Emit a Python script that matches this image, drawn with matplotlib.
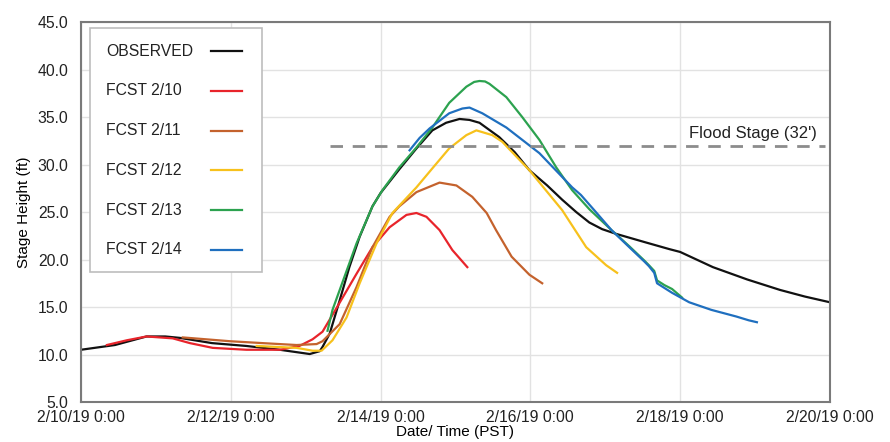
import numpy as np
import matplotlib
matplotlib.use("Agg")
import matplotlib.pyplot as plt
import matplotlib.dates as mdates
from matplotlib.patches import Rectangle

plt.rcParams["font.family"] = ["Liberation Sans", "DejaVu Sans"]

# hours after 2/10/19 0:00 (PST) and stage height (ft)
obs_hours = [0, 10.9, 21, 27, 31.7, 42, 53, 63.7, 73.3, 76.5, 77.4, 79.7, 82.9, 86, 89.3, 93.4,
             96, 102, 107.5, 112.6, 117, 121.3, 124.5, 127.7, 134, 139, 143.7, 149.4, 154.2,
             158.7, 162.9, 167, 171.5, 181, 188.5, 192, 202.5, 213.5, 224, 232, 240]
obs_stage = [10.5, 11.0, 11.9, 11.9, 11.75, 11.2, 10.9, 10.5, 10.05, 10.35, 10.8, 12.2, 15.7, 19.2, 22.4, 25.6,
             27.0, 29.5, 31.7, 33.6, 34.4, 34.8, 34.7, 34.4, 32.9, 31.3, 29.4, 27.8, 26.3,
             25.0, 23.9, 23.2, 22.7, 21.8, 21.1, 20.8, 19.2, 17.9, 16.8, 16.1, 15.5]

f10_hours = [8.3, 14.7, 21, 29.4, 34.9, 42.2, 53, 63.7, 70, 74.2, 77.4, 81.9, 88.3, 93.4, 98.9,
             104.3, 107.5, 110.7, 114.9, 119, 123.8]
f10_stage = [11.0, 11.5, 11.9, 11.7, 11.2, 10.7, 10.5, 10.5, 10.9, 11.6, 12.4, 14.9, 18.5, 21.3, 23.4,
             24.7, 24.9, 24.5, 23.1, 21.0, 19.2]

f11_hours = [32.6, 47.7, 58.2, 69.1, 75.5, 77.4, 82.9, 88.3, 93.4, 98.9, 102, 107.5, 114.9, 120.3,
             125.4, 130, 133, 138, 143.7, 147.8]
f11_stage = [11.8, 11.4, 11.2, 11.0, 11.1, 11.4, 13.2, 17.1, 21.3, 24.5, 25.6, 27.1, 28.1, 27.8,
             26.6, 24.9, 23.1, 20.3, 18.4, 17.5]

f12_hours = [56.3, 69.1, 74.2, 77.1, 80.6, 85.1, 89.3, 94.7, 99.8, 107.5, 112.6, 118, 123.5, 126.7,
             131.8, 135, 143.7, 154.2, 161.9, 168.3, 171.8]
f12_stage = [10.9, 10.7, 10.4, 10.4, 11.5, 13.9, 17.5, 21.7, 24.9, 27.6, 29.6, 31.7, 33.1, 33.6,
             33.1, 32.4, 29.4, 25.2, 21.3, 19.4, 18.6]

f13_hours = [79, 80.6, 88.3, 93.4, 96.6, 102, 107.5, 112.6, 118, 123.5, 126, 127.7, 129.5, 130.9,
             136.3, 141.4, 146.9, 152.3, 157.4, 162.9, 170, 175.7, 180.5, 182, 183.7, 184.6, 187,
             189.4, 192.6]
f13_stage = [12.5, 14.7, 21.7, 25.6, 27.3, 29.7, 31.8, 33.9, 36.5, 38.2, 38.7, 38.8, 38.75, 38.5,
             37.1, 35.0, 32.6, 29.7, 27.3, 25.3, 23.1, 21.4, 19.9, 19.4, 18.8, 17.8, 17.3,
             16.9, 16.0]

f14_hours = [105.3, 108.5, 111.7, 118, 122.2, 124.5, 128.6, 136.3, 146.9, 157.4, 160.2, 165, 170,
             175.7, 180.5, 182, 183.7, 184.6, 187, 189.4, 194.9, 202, 210, 214, 216.6]
f14_stage = [31.5, 32.8, 33.8, 35.4, 35.9, 36.0, 35.4, 33.9, 31.2, 27.6, 26.8, 25.0, 23.1,
             21.3, 19.8, 19.3, 18.6, 17.5, 17.0, 16.5, 15.5, 14.7, 14.0, 13.6, 13.4]

flood_stage = 32
flood_hours = [79.7, 238.4]

start = np.datetime64("2019-02-10T00:00")


def to_time(hours):
    return start + (np.array(hours) * 60).round().astype(int).astype("timedelta64[m]")


series = [
    ("OBSERVED", obs_hours, obs_stage, "#111111"),
    ("FCST 2/10", f10_hours, f10_stage, "#e8242b"),
    ("FCST 2/11", f11_hours, f11_stage, "#c4622d"),
    ("FCST 2/12", f12_hours, f12_stage, "#f7c11c"),
    ("FCST 2/13", f13_hours, f13_stage, "#2ca24f"),
    ("FCST 2/14", f14_hours, f14_stage, "#1f6fbf"),
]

fig = plt.figure(figsize=(8.9, 4.42), dpi=100)
ax = fig.add_axes([0.091, 0.0905, 0.8415, 0.8595])

for label, hours, stage, color in series:
    ax.plot(to_time(hours), stage, color=color, lw=1.6, label=label,
            solid_joinstyle="round")

ax.plot(to_time(flood_hours), [flood_stage, flood_stage], color="#8c8c8c", lw=2,
        dashes=(4.5, 3.5))
ax.text(to_time([235.8])[0], flood_stage + 0.5, "Flood Stage (32')", ha="right", va="bottom",
        fontsize=12, color="#222222")

ax.set_xlim(to_time([0])[0], to_time([240])[0])
ax.set_ylim(5, 45)
ax.set_yticks(np.arange(5, 46, 5))
ax.yaxis.set_major_formatter(plt.FuncFormatter(lambda v, p: f"{v:.1f}"))
ax.set_xticks(to_time([0, 48, 96, 144, 192, 240]))


def fmt_date(v, p):
    d = mdates.num2date(v)
    return f"{d.month}/{d.day}/{d:%y} {d.hour}:{d:%M}"


ax.xaxis.set_major_formatter(plt.FuncFormatter(fmt_date))
ax.tick_params(length=0, labelsize=11.3, colors="#222222")
ax.tick_params(axis="y", pad=9)
ax.tick_params(axis="x", pad=6)
ax.grid(color="#e2e2e2", lw=1)
ax.set_axisbelow(True)
for sp in ax.spines.values():
    sp.set_color("#7a7a7a")
    sp.set_linewidth(1.5)

ax.set_ylabel("Stage Height (ft)", fontsize=11, labelpad=5)
ax.set_xlabel("Date/ Time (PST)", fontsize=11, labelpad=0)

# legend box: labels left-aligned, line samples on the right
ax.add_patch(Rectangle((0.012, 0.342), 0.2297, 0.642, transform=ax.transAxes, facecolor="white",
                       edgecolor="#bdbdbd", lw=1.2, zorder=5))
for i, (label, hours, stage, color) in enumerate(series):
    y = 0.9237 - i * 0.1047
    ax.text(0.0334, y, label, transform=ax.transAxes, fontsize=11.3, va="center", ha="left",
            color="#222222", zorder=6)
    ax.plot([0.1736, 0.215], [y, y], transform=ax.transAxes, color=color, lw=1.6, zorder=6)

fig.savefig("out.png", dpi=100)
